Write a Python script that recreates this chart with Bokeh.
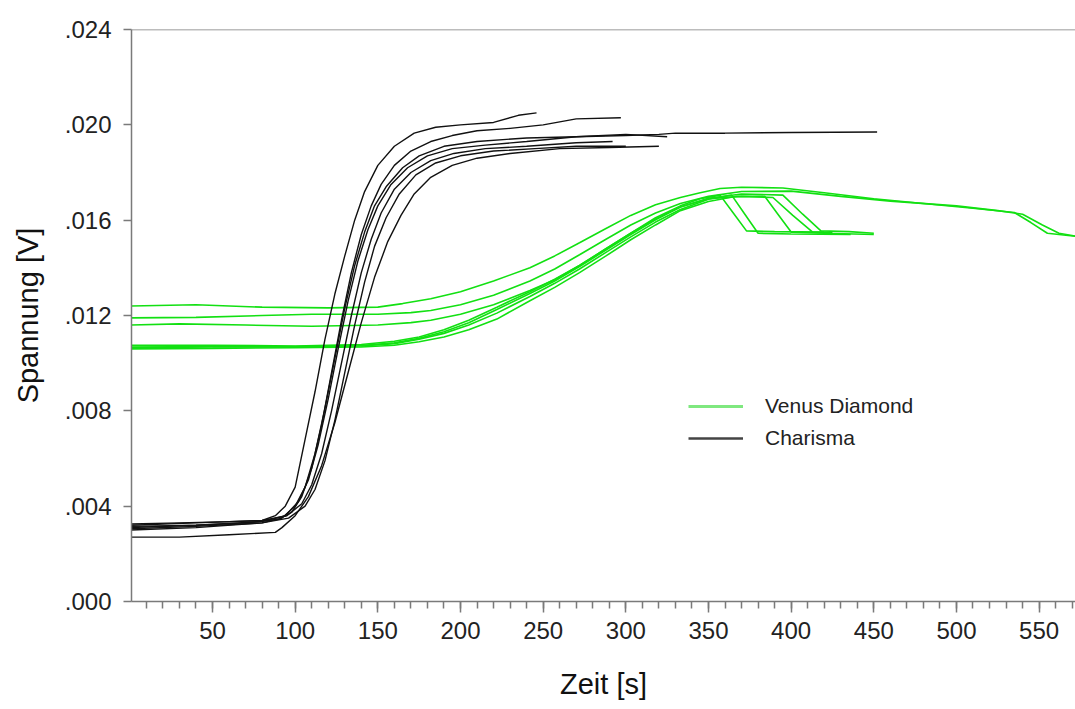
from bokeh.plotting import figure
from bokeh.models import (Range1d, SingleIntervalTicker, CustomJSTickFormatter,
                          Legend, LegendItem, Span)
from bokeh.embed import file_html
from bokeh.resources import INLINE

# ---------------- data ----------------
# Charisma (black) curves: time [s], voltage [V]
charisma_t1 = [0, 30, 60, 80, 88, 94, 100, 106, 112, 118, 124, 130, 136, 142, 150, 160, 172, 185, 200, 220, 235, 246]
charisma_v1 = [.00325, .00330, .00335, .00340, .00360, .00400, .00480, .00680, .00880, .01100, .01290, .01450,
               .01600, .01720, .01830, .01910, .01965, .01990, .02000, .02010, .02040, .02050]

charisma_t2 = [0, 40, 70, 90, 98, 104, 110, 116, 122, 128, 134, 140, 146, 152, 160, 170, 182, 195, 210, 230, 250, 270, 297]
charisma_v2 = [.00310, .00320, .00330, .00345, .00375, .00440, .00560, .00740, .00960, .01180, .01380, .01540,
               .01660, .01750, .01830, .01890, .01930, .01955, .01975, .01985, .02000, .02025, .02030]

charisma_t3 = [0, 40, 80, 92, 100, 106, 112, 118, 124, 130, 136, 142, 148, 155, 165, 175, 190, 210, 240, 270, 300,
               320, 330, 360, 400, 452]
charisma_v3 = [.00300, .00310, .00330, .00350, .00400, .00480, .00620, .00810, .01020, .01230, .01410, .01550,
               .01660, .01740, .01820, .01870, .01910, .01930, .01945, .01950, .01955, .01960, .01965, .01965,
               .01968, .01970]

charisma_t4 = [0, 40, 80, 94, 102, 108, 114, 120, 126, 132, 138, 144, 150, 158, 168, 180, 195, 215, 240, 270, 300, 325]
charisma_v4 = [.00315, .00320, .00335, .00360, .00420, .00510, .00660, .00850, .01060, .01260, .01430, .01560,
               .01660, .01750, .01820, .01870, .01900, .01915, .01930, .01950, .01960, .01950]

charisma_t5 = [0, 40, 80, 95, 104, 110, 116, 122, 128, 134, 140, 146, 152, 160, 170, 182, 196, 215, 240, 270, 292]
charisma_v5 = [.00320, .00330, .00340, .00360, .00410, .00490, .00620, .00800, .01000, .01200, .01380, .01520,
               .01630, .01730, .01800, .01850, .01880, .01900, .01910, .01925, .01930]

charisma_t6 = [0, 40, 80, 96, 106, 112, 118, 124, 130, 136, 142, 148, 155, 163, 173, 185, 200, 220, 245, 270, 300]
charisma_v6 = [.00305, .00315, .00330, .00350, .00400, .00470, .00590, .00760, .00960, .01160, .01340, .01490,
               .01610, .01710, .01790, .01840, .01870, .01890, .01900, .01910, .01910]

charisma_t7 = [0, 30, 60, 88, 92, 100, 108, 116, 124, 132, 140, 148, 156, 164, 172, 182, 195, 210, 230, 260, 290, 320]
charisma_v7 = [.00270, .00270, .00280, .00290, .00310, .00360, .00440, .00570, .00750, .00960, .01170, .01360,
               .01510, .01620, .01710, .01780, .01830, .01860, .01880, .01900, .01905, .01910]

# Venus Diamond (green) curves
venus_t1 = [0, 40, 80, 120, 150, 165, 182, 200, 220, 242, 257, 272, 288, 303, 318, 333, 345, 357, 370, 395, 420,
            450, 480, 510, 535, 545, 555, 575]
venus_v1 = [.01240, .01245, .01235, .01232, .01235, .01250, .01270, .01300, .01345, .01400, .01450, .01505, .01565,
            .01620, .01665, .01695, .01715, .01733, .01738, .01735, .01715, .01690, .01670, .01650, .01632, .01590,
            .01545, .01530]

venus_t2 = [0, 40, 80, 110, 150, 170, 182, 200, 220, 242, 257, 272, 288, 303, 318, 333, 350, 370, 400, 430, 460,
            500, 525, 540, 552, 562, 575]
venus_v2 = [.01190, .01192, .01200, .01205, .01205, .01212, .01221, .01245, .01285, .01345, .01395, .01455, .01520,
            .01580, .01630, .01670, .01700, .01720, .01722, .01700, .01680, .01660, .01640, .01625, .01580, .01545,
            .01530]

venus_t3 = [0, 30, 70, 110, 150, 170, 182, 200, 220, 242, 257, 272, 288, 303, 318, 333, 345, 357, 365, 373, 390, 420]
venus_v3 = [.01160, .01165, .01160, .01155, .01160, .01170, .01180, .01205, .01245, .01305, .01350, .01410, .01480,
            .01545, .01610, .01660, .01690, .01705, .01630, .01555, .01552, .01550]

venus_t4 = [0, 50, 100, 140, 160, 175, 190, 205, 222, 242, 257, 272, 288, 303, 318, 333, 350, 364, 372, 380, 400, 436]
venus_v4 = [.01065, .01068, .01068, .01072, .01082, .01100, .01125, .01160, .01210, .01280, .01335, .01395, .01465,
            .01530, .01592, .01645, .01688, .01705, .01625, .01545, .01542, .01540]

venus_t5 = [0, 50, 100, 140, 160, 175, 190, 205, 222, 242, 257, 272, 288, 303, 318, 333, 350, 367, 384, 392, 400,
            420, 450]
venus_v5 = [.01060, .01062, .01065, .01068, .01075, .01090, .01110, .01140, .01185, .01262, .01318, .01380, .01450,
            .01518, .01580, .01640, .01678, .01700, .01700, .01625, .01550, .01545, .01540]

venus_t6 = [0, 50, 100, 140, 160, 175, 190, 205, 222, 242, 257, 272, 288, 303, 318, 333, 350, 370, 389, 401, 413, 425]
venus_v6 = [.01075, .01075, .01072, .01078, .01092, .01110, .01140, .01180, .01235, .01300, .01352, .01410, .01480,
            .01545, .01605, .01655, .01690, .01700, .01695, .01620, .01550, .01548]

venus_t7 = [0, 50, 100, 140, 160, 175, 190, 205, 222, 242, 257, 272, 288, 303, 318, 333, 350, 370, 395, 407, 418,
            435, 450]
venus_v7 = [.01068, .01070, .01070, .01074, .01085, .01104, .01132, .01170, .01225, .01292, .01345, .01405, .01475,
            .01540, .01602, .01655, .01692, .01710, .01705, .01625, .01555, .01552, .01545]

series_names = ["Venus Diamond", "Charisma"]
x_label = "Zeit [s]"
y_label = "Spannung [V]"

charisma = [(charisma_t1, charisma_v1), (charisma_t2, charisma_v2), (charisma_t3, charisma_v3),
            (charisma_t4, charisma_v4), (charisma_t5, charisma_v5), (charisma_t6, charisma_v6),
            (charisma_t7, charisma_v7)]
venus = [(venus_t1, venus_v1), (venus_t2, venus_v2), (venus_t3, venus_v3), (venus_t4, venus_v4),
         (venus_t5, venus_v5), (venus_t6, venus_v6), (venus_t7, venus_v7)]

# ---------------- figure ----------------
FONT = "Liberation Sans"
GREEN = "#12e012"
BLACK = "#111111"
AXIS = "#7a7a7a"
TXT = "#222222"

p = figure(width=1075, height=709, output_backend="svg", toolbar_location=None,
           x_range=Range1d(1, 572), y_range=Range1d(0, 0.024),
           min_border_left=131, min_border_right=0, min_border_top=29, min_border_bottom=108)
p.outline_line_color = None
p.xgrid.visible = False
p.ygrid.visible = False
p.background_fill_color = "white"
p.border_fill_color = "white"

for t, v in venus:
    p.line(t, v, line_color=GREEN, line_width=1.6)
for t, v in charisma:
    p.line(t, v, line_color=BLACK, line_width=1.4)

# legend-only renderers (lighter sample lines), placed off-range so they draw nothing in the frame
nan = float("nan")
leg_g = p.line([nan, nan], [nan, nan], line_color="#7fe87f", line_width=3)
leg_b = p.line([nan, nan], [nan, nan], line_color="#444444", line_width=2.5)

legend = Legend(items=[LegendItem(label=series_names[0], renderers=[leg_g]),
                       LegendItem(label=series_names[1], renderers=[leg_b])],
                location=(557, 151), orientation="vertical",
                padding=0, margin=0, spacing=8,
                glyph_width=55, glyph_height=24, label_height=24, label_standoff=22,
                label_text_font=FONT, label_text_font_size="21px", label_text_color=TXT,
                border_line_color=None, background_fill_alpha=0)
p.add_layout(legend, "center")

# top frame line
p.add_layout(Span(location=0.024, dimension="width", line_color=AXIS, line_width=1.5))

# x axis
xa = p.xaxis[0]
xa.ticker = SingleIntervalTicker(interval=50, num_minor_ticks=5)
xa.axis_label = x_label
xa.axis_label_text_font = FONT
xa.axis_label_text_font_size = "29px"
xa.axis_label_text_font_style = "normal"
xa.axis_label_text_color = "#111111"
xa.axis_label_standoff = 26
xa.major_label_text_font = FONT
xa.major_label_text_font_size = "24px"
xa.major_label_text_color = TXT
xa.major_label_standoff = 9
xa.axis_line_color = AXIS
xa.axis_line_width = 1.5
xa.major_tick_line_color = AXIS
xa.major_tick_line_width = 1.5
xa.minor_tick_line_color = AXIS
xa.minor_tick_line_width = 1.5
xa.major_tick_out = 11
xa.major_tick_in = 0
xa.minor_tick_out = 7
xa.minor_tick_in = 0

# y axis
ya = p.yaxis[0]
ya.ticker = SingleIntervalTicker(interval=0.004, num_minor_ticks=0)
ya.formatter = CustomJSTickFormatter(code="return tick.toFixed(3).replace(/^0/, '');")
ya.axis_label = y_label
ya.axis_label_text_font = FONT
ya.axis_label_text_font_size = "29px"
ya.axis_label_text_font_style = "normal"
ya.axis_label_text_color = "#111111"
ya.axis_label_standoff = 18
ya.major_label_text_font = FONT
ya.major_label_text_font_size = "24px"
ya.major_label_text_color = TXT
ya.major_label_standoff = 12
ya.axis_line_color = AXIS
ya.axis_line_width = 1.5
ya.major_tick_line_color = AXIS
ya.major_tick_line_width = 1.5
ya.major_tick_out = 8
ya.major_tick_in = 0
ya.minor_tick_line_color = None

open("out.html", "w").write(file_html(p, INLINE))
